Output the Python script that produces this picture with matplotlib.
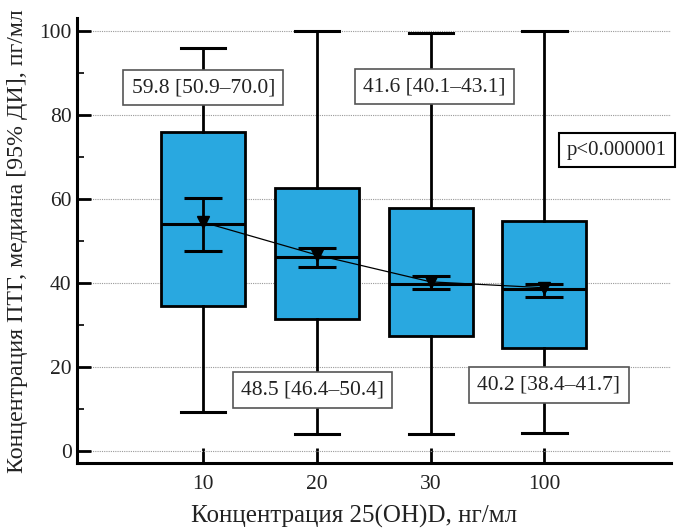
import matplotlib.pyplot as plt
import numpy as np

# data
groups = ["10", "20", "30", "100"]
q1 = [34.6, 31.4, 27.5, 24.6]
medians = [54.0, 46.2, 39.8, 38.6]
q3 = [75.9, 62.7, 57.9, 54.8]
whis_lo = [9.4, 4.0, 4.0, 4.4]
whis_hi = [96.0, 100.0, 99.7, 100.0]
means = [54.5, 46.7, 40.3, 38.9]
ci_lo = [47.6, 43.9, 38.6, 36.7]
ci_hi = [60.3, 48.3, 41.6, 39.8]
box_notes = ["59.8 [50.9–70.0]", "48.5 [46.4–50.4]", "41.6 [40.1–43.1]", "40.2 [38.4–41.7]"]
p_note = "p<0.000001"

plt.rcParams["font.family"] = ["Liberation Serif", "DejaVu Serif"]
TXT = "#222222"
BLUE = "#29A8E0"


def main() -> None:
    fig = plt.figure(figsize=(6.79, 5.32), dpi=100, facecolor="white")
    ax = fig.add_axes([0.1138, 0.1297, 0.8744, 0.8359])

    pos = np.arange(len(groups))
    stats = [
        dict(med=m, q1=a, q3=b, whislo=lo, whishi=hi, label=g)
        for g, m, a, b, lo, hi in zip(groups, medians, q1, q3, whis_lo, whis_hi)
    ]
    ax.bxp(
        stats,
        positions=pos,
        widths=0.74,
        capwidths=0.39,
        showfliers=False,
        patch_artist=True,
        boxprops=dict(facecolor=BLUE, edgecolor="black", linewidth=2.0),
        whiskerprops=dict(color="black", linewidth=2.0),
        capprops=dict(color="black", linewidth=2.2),
        medianprops=dict(color="black", linewidth=2.2),
        zorder=3,
    )

    means_a = np.array(means)
    yerr = [means_a - np.array(ci_lo), np.array(ci_hi) - means_a]
    ax.errorbar(pos, means_a, yerr=yerr, fmt="none", ecolor="black",
                elinewidth=2.0, capsize=14, capthick=2.2, zorder=4)
    ax.plot(pos, means_a, color="black", linewidth=0.9, marker="v",
            markersize=9, zorder=5)

    # annotation boxes with median [95% CI]
    note_x = [0.0, 0.96, 2.03, 3.04]
    note_y = [86.6, 14.5, 86.8, 15.7]
    for x, y, s in zip(note_x, note_y, box_notes):
        ax.text(x, y, s, ha="center", va="center", fontsize=15.5, color=TXT, zorder=6,
                bbox=dict(boxstyle="square,pad=0.38", facecolor="white",
                          edgecolor="#555555", linewidth=1.2))
    ax.text(3.635, 71.7, p_note, ha="center", va="center", fontsize=15, color=TXT, zorder=6,
            bbox=dict(boxstyle="square,pad=0.38", facecolor="white",
                      edgecolor="black", linewidth=1.5))

    ax.set_xlim(-1.108, 4.113)
    ax.set_ylim(-2.86, 103.1)
    ax.set_xticks(pos)
    ax.set_xticklabels(groups)
    ax.set_yticks(np.arange(0, 101, 20))
    ax.set_yticks(np.arange(10, 100, 20), minor=True)

    ax.tick_params(axis="x", direction="in", length=11, width=2, pad=9,
                   labelsize=15.5, labelcolor=TXT)
    ax.tick_params(axis="y", which="major", direction="in", length=10, width=2, pad=4,
                   labelsize=15.5, labelcolor=TXT)
    ax.tick_params(axis="y", which="minor", direction="in", length=5, width=1.2)

    ax.yaxis.grid(True, linestyle=(0, (1, 1)), color="#999999", linewidth=0.8)
    ax.set_axisbelow(True)

    for side in ["top", "right"]:
        ax.spines[side].set_visible(False)
    for side in ["left", "bottom"]:
        ax.spines[side].set_linewidth(2.2)
        ax.spines[side].set_color("black")

    fig.text(18 / 679, 1 - 241 / 532, "Концентрация ПТГ, медиана [95% ДИ], пг/мл",
             rotation=90, ha="center", va="center", fontsize=17.2, color=TXT)
    fig.text(354 / 679, 1 - 516 / 532, "Концентрация 25(OH)D, нг/мл",
             ha="center", va="center", fontsize=18, color=TXT)

    fig.savefig("out.png", dpi=100, facecolor="white")
    plt.close(fig)


if __name__ == "__main__":
    main()
